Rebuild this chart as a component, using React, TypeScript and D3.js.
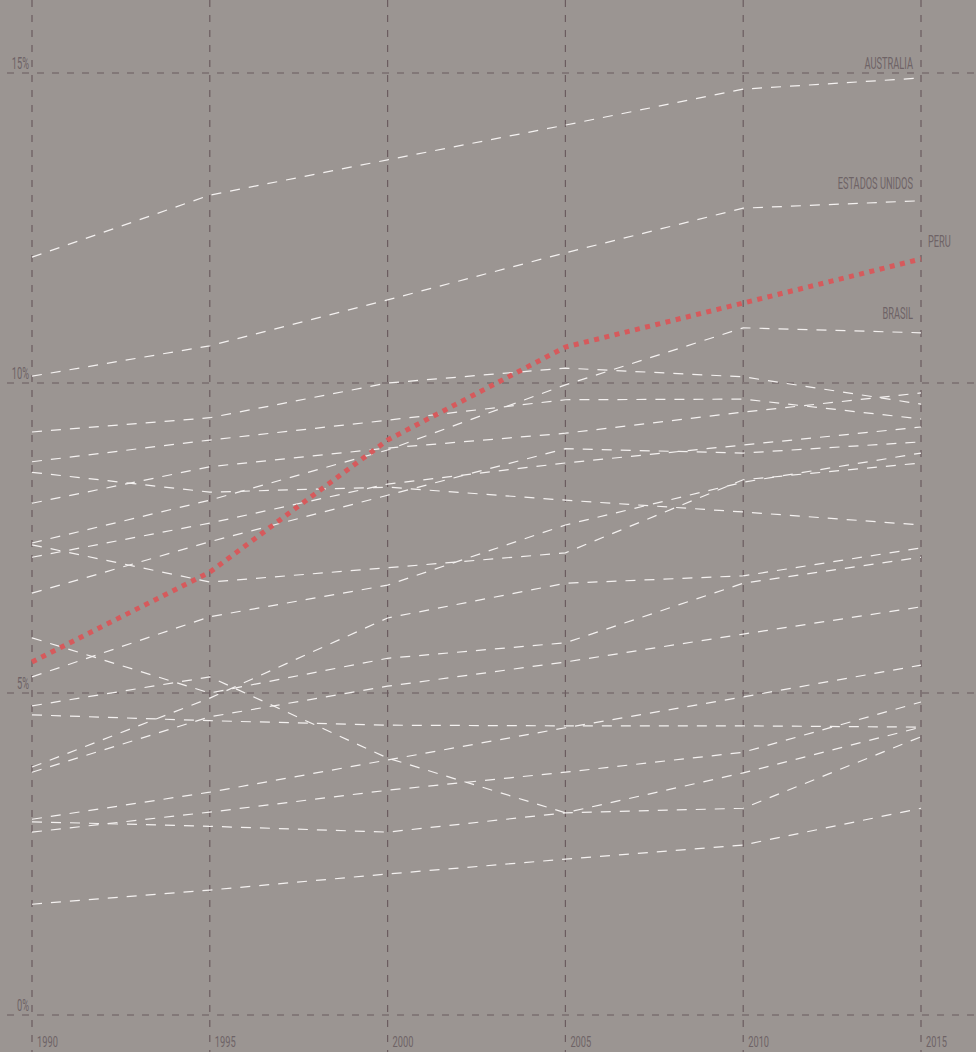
import React, {useEffect} from 'react';
import * as d3 from 'd3';

// Share of population (%) by year
const years = [1990, 1995, 2000, 2005, 2010, 2015];
const yTicks = [0, 5, 10, 15];

const australia = [12.03, 13.03, 13.6, 14.16, 14.74, 14.92];
const estadosUnidos = [10.11, 10.6, 11.34, 12.1, 12.82, 12.94];
const peru = [5.5, 6.95, 9.08, 10.58, 11.29, 12.0];
const brasil = [7.42, 8.11, 8.92, 9.97, 10.89, 10.81];

// unlabelled countries
const otherCountries: number[][] = [
  [9.21, 9.44, 10.0, 10.24, 10.1, 9.66],
  [8.73, 9.08, 9.4, 9.73, 9.74, 9.42],
  [8.56, 8.24, 8.32, 8.11, 7.92, 7.71],
  [8.06, 8.65, 8.95, 9.19, 9.53, 9.84],
  [7.19, 7.74, 8.37, 8.71, 9.0, 9.29],
  [7.39, 6.79, 7.02, 7.26, 8.44, 8.71],
  [6.61, 7.44, 8.19, 8.94, 8.87, 9.05],
  [5.89, 5.0, 5.56, 5.81, 6.77, 7.19],
  [5.26, 6.23, 6.74, 7.71, 8.4, 8.87],
  [4.8, 5.26, 3.99, 3.14, 3.76, 4.47],
  [4.66, 4.57, 4.5, 4.49, 4.49, 4.47],
  [3.85, 4.92, 6.21, 6.77, 6.89, 7.34],
  [3.77, 4.63, 5.11, 5.5, 5.95, 6.39],
  [3.04, 3.46, 3.96, 4.46, 4.94, 5.45],
  [3.0, 2.93, 2.84, 3.14, 3.21, 4.32],
  [2.84, 3.15, 3.49, 3.77, 4.08, 4.86],
  [1.72, 1.94, 2.19, 2.42, 2.64, 3.21],
];

const W = 976;
const H = 1052;

const BG = '#9b9592';
const GRID = '#6b5c5f';
const TEXT = '#6e6366';
const WHITE = '#f4f1f0';
const RED = '#d65a5c';
const FONT = 'Roboto, "Open Sans", sans-serif';
const SX = 0.58;

const x = d3.scaleLinear().domain([1990, 2015]).range([32, 921]);
const y = d3.scaleLinear().domain([0, 5, 15]).range([1015, 693, 73]);

const line = d3
  .line<number>()
  .x((_, i) => x(years[i]))
  .y((d) => y(d));

const App: React.FC = () => {
  useEffect(() => {
    document.body.style.margin = '0';
  }, []);

  const last = years.length - 1;
  const labels = [
    {name: 'AUSTRALIA', values: australia, dy: -9, dx: -8, anchor: 'end'},
    {name: 'ESTADOS UNIDOS', values: estadosUnidos, dy: -12, dx: -8, anchor: 'end'},
    {name: 'PERU', values: peru, dy: -12, dx: 7, anchor: 'start'},
    {name: 'BRASIL', values: brasil, dy: -14, dx: -8, anchor: 'end'},
  ];

  return (
    <svg width={W} height={H} style={{display: 'block', background: BG}}>
      <rect width={W} height={H} fill={BG} />

      {/* grid */}
      <g stroke={GRID} strokeWidth={1.2} strokeDasharray="7,8" fill="none">
        {yTicks.map((t) => (
          <line key={t} x1={7} x2={W} y1={y(t)} y2={y(t)} />
        ))}
        {years.map((yr) => (
          <line key={yr} x1={x(yr)} x2={x(yr)} y1={0} y2={H} />
        ))}
      </g>

      {/* tick labels */}
      <g fill={TEXT} fontFamily={FONT} fontSize={16}>
        {yTicks.map((t) => (
          <text
            key={t}
            transform={`translate(${x(1990) - 3},${y(t) - 4}) scale(${SX},1)`}
            textAnchor="end">
            {`${t}%`}
          </text>
        ))}
        {years.map((yr) => (
          <text
            key={yr}
            fontSize={15}
            transform={`translate(${x(yr) + 5},${H - 5}) scale(${SX + 0.04},1)`}>
            {yr}
          </text>
        ))}
      </g>

      {/* other countries and labelled ones */}
      <g fill="none" stroke={WHITE} strokeWidth={1.2} strokeDasharray="10,9">
        {[...otherCountries, australia, estadosUnidos, brasil].map((s, i) => (
          <path key={i} d={line(s) || ''} />
        ))}
      </g>

      <path
        d={line(peru) || ''}
        fill="none"
        stroke={RED}
        strokeWidth={5}
        strokeDasharray="5,5.5"
      />

      <g fill={TEXT} fontFamily={FONT} fontSize={16}>
        {labels.map((l) => (
          <text
            key={l.name}
            textAnchor={l.anchor}
            transform={`translate(${x(years[last]) + l.dx},${
              y(l.values[last]) + l.dy
            }) scale(${SX},1)`}>
            {l.name}
          </text>
        ))}
      </g>
    </svg>
  );
};

export default App;
